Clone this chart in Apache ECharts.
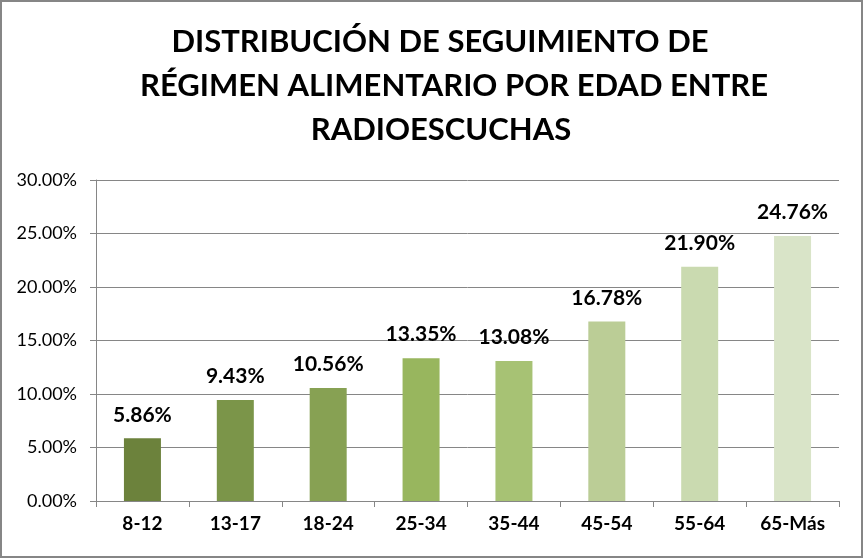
<!DOCTYPE html>
<html>
<head>
<meta charset="utf-8">
<script src="https://cdn.jsdelivr.net/npm/echarts@6/dist/echarts.min.js"></script>
<style>
  html, body { margin: 0; padding: 0; background: #fff; }
  #container { width: 863px; height: 558px; box-sizing: border-box; border: 2px solid #868686; }
</style>
</head>
<body>
<div id="container"></div>
<script>
var categories = ['8-12', '13-17', '18-24', '25-34', '35-44', '45-54', '55-64', '65-Más'];
var values = [5.86, 9.43, 10.56, 13.35, 13.08, 16.78, 21.90, 24.76];
var barColors = ['#6c823c', '#7b9549', '#87a153', '#98b65e', '#a7c274', '#bbcd96', '#cadab0', '#d9e4c8'];
var titleLines = ['DISTRIBUCIÓN DE SEGUIMIENTO DE', 'RÉGIMEN ALIMENTARIO POR EDAD ENTRE', 'RADIOESCUCHAS'];
var titleCenters = [438, 452, 439];

var dom = document.getElementById('container');
var myChart = echarts.init(dom);

var titles = titleLines.map(function(t, i) {
  return {
    text: t,
    left: titleCenters[i],
    textAlign: 'center',
    top: 24 + i * 44,
    padding: 0,
    textStyle: {
      fontFamily: 'Lato',
      fontWeight: 'bold',
      fontSize: 31,
      color: '#000'
    }
  };
});

var option = {
  animation: false,
  title: titles,
  grid: { left: 94, right: 22, top: 178, bottom: 55 },
  xAxis: {
    type: 'category',
    data: categories,
    axisLine: { lineStyle: { color: '#868686' } },
    axisTick: { show: true, length: 6, lineStyle: { color: '#868686' } },
    axisLabel: { color: '#000', fontFamily: 'Lato', fontWeight: 'bold', fontSize: 19, margin: 13 }
  },
  yAxis: {
    type: 'value',
    min: 0,
    max: 30,
    interval: 5,
    axisLine: { show: true, lineStyle: { color: '#868686' } },
    axisTick: { show: true, length: 6, lineStyle: { color: '#868686' } },
    splitLine: { lineStyle: { color: '#868686' } },
    axisLabel: {
      color: '#000', fontFamily: 'Lato', fontSize: 18, margin: 19,
      formatter: function(v) { return v.toFixed(2) + '%'; }
    }
  },
  series: [{
    type: 'bar',
    barWidth: 37,
    data: values.map(function(v, i) {
      return { value: v, itemStyle: { color: barColors[i] } };
    }),
    label: {
      show: true,
      position: 'top',
      distance: 13,
      color: '#000',
      fontFamily: 'Lato',
      fontWeight: 'bold',
      fontSize: 21,
      formatter: function(p) { return p.value.toFixed(2) + '%'; }
    }
  }]
};
myChart.setOption(option);
</script>
</body>
</html>
